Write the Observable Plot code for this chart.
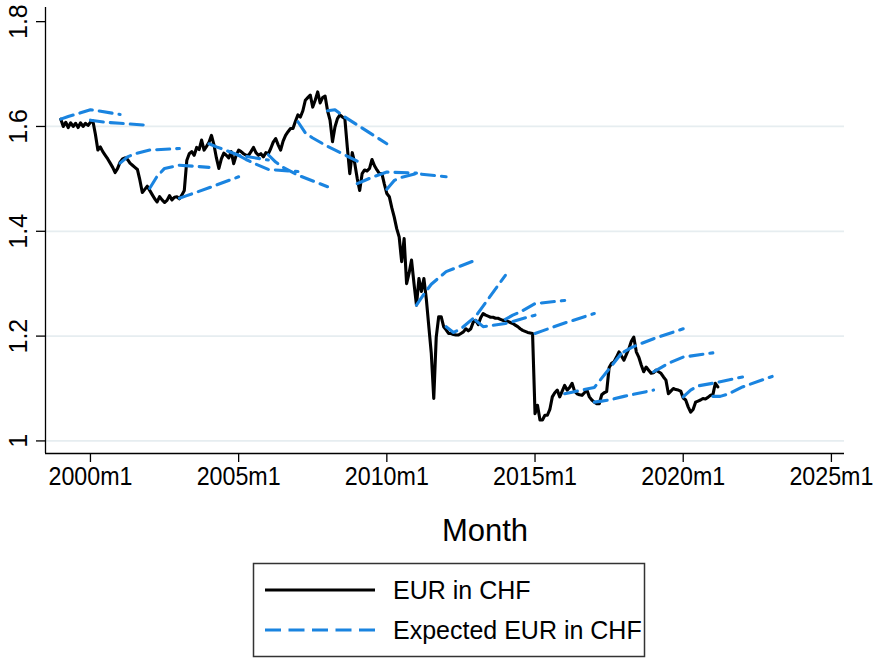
<!DOCTYPE html>
<html><head><meta charset="utf-8">
<script src="https://cdn.jsdelivr.net/npm/d3@7"></script>
<script src="https://cdn.jsdelivr.net/npm/@observablehq/plot@0.6"></script>
<style>
body{margin:0;background:#fff;font-family:"Liberation Sans",Arial,sans-serif;}
#wrap{position:relative;width:896px;height:659px;overflow:hidden;}
#legend{position:absolute;left:0;top:0;}
</style></head><body><div id="wrap"><div id="chart"></div><svg id="legend" width="896" height="659"></svg></div>
<script>
// ---- data ----
const spotStartYear = 1999;   // first observation: 1999m1, monthly
const spotValues = [
  1.614,1.600,1.608,1.598,1.607,1.600,1.606,1.598,1.607,1.600,1.606,1.602, // 1999
  1.608,1.610,1.585,1.555,1.561,1.552,1.545,1.538,1.530,1.522,1.512,1.520, // 2000
  1.532,1.538,1.540,1.537,1.530,1.526,1.522,1.518,1.498,1.474,1.480,1.486, // 2001
  1.478,1.470,1.462,1.456,1.466,1.460,1.455,1.459,1.468,1.460,1.465,1.466, // 2002
  1.462,1.469,1.478,1.535,1.548,1.552,1.545,1.560,1.556,1.574,1.555,1.562, // 2003
  1.570,1.583,1.565,1.540,1.520,1.538,1.549,1.545,1.540,1.552,1.529,1.545, // 2004
  1.555,1.552,1.548,1.545,1.545,1.552,1.560,1.550,1.545,1.548,1.542,1.550, // 2005
  1.548,1.558,1.570,1.577,1.565,1.555,1.572,1.583,1.590,1.596,1.596,1.610, // 2006
  1.622,1.618,1.630,1.650,1.655,1.660,1.637,1.650,1.666,1.645,1.655,1.658, // 2007
  1.630,1.612,1.571,1.599,1.615,1.622,1.618,1.615,1.560,1.510,1.550,1.530, // 2008
  1.501,1.478,1.510,1.517,1.515,1.520,1.537,1.525,1.517,1.510,1.510,1.490, // 2009
  1.472,1.466,1.445,1.427,1.405,1.389,1.342,1.386,1.300,1.320,1.345,1.300, // 2010
  1.259,1.310,1.285,1.310,1.270,1.218,1.167,1.081,1.198,1.237,1.237,1.218, // 2011
  1.212,1.205,1.205,1.203,1.202,1.202,1.205,1.208,1.214,1.210,1.214,1.227, // 2012
  1.230,1.222,1.235,1.243,1.240,1.238,1.236,1.236,1.234,1.234,1.232,1.230, // 2013
  1.230,1.228,1.226,1.224,1.221,1.218,1.214,1.211,1.209,1.207,1.206,1.205, // 2014
  1.052,1.068,1.040,1.040,1.049,1.049,1.060,1.084,1.092,1.097,1.084,1.095, // 2015
  1.106,1.097,1.102,1.110,1.095,1.090,1.088,1.087,1.092,1.097,1.084,1.078, // 2016
  1.074,1.071,1.071,1.088,1.092,1.094,1.140,1.148,1.151,1.160,1.170,1.162, // 2017
  1.154,1.165,1.176,1.190,1.198,1.170,1.160,1.145,1.132,1.141,1.135,1.129, // 2018
  1.130,1.135,1.132,1.129,1.122,1.116,1.090,1.095,1.100,1.098,1.097,1.095, // 2019
  1.082,1.078,1.065,1.055,1.060,1.074,1.076,1.078,1.081,1.080,1.083,1.087, // 2020
  1.088,1.110,1.103                                                        // 2021
];
// forecasts made each January, expected EUR in CHF at these horizons (months ahead)
const forecastYears = [1999,2000,2001,2002,2003,2004,2005,2006,2007,2008,2009,2010,2011,2012,2013,2014,2015,2016,2017,2018,2019,2020,2021];
const forecastHorizons = [0, 3, 6, 12, 24];
const forecastValues = [
  [1.614,1.619,1.623,1.632,1.623],
  [1.612,1.610,1.608,1.606,1.602],
  [1.530,1.542,1.548,1.555,1.558],
  [1.482,1.505,1.520,1.526,1.522],
  [1.463,1.468,1.473,1.483,1.504],
  [1.567,1.561,1.556,1.545,1.536],
  [1.545,1.537,1.530,1.518,1.514],
  [1.546,1.532,1.522,1.507,1.485],
  [1.609,1.588,1.578,1.562,1.534],
  [1.630,1.632,1.621,1.603,1.567],
  [1.491,1.497,1.503,1.513,1.511],
  [1.480,1.497,1.503,1.510,1.504],
  [1.259,1.280,1.299,1.323,1.345],
  [1.218,1.207,1.214,1.238,1.316],
  [1.230,1.218,1.220,1.224,1.240],
  [1.232,1.240,1.246,1.262,1.268],
  [1.205,1.210,1.215,1.225,1.243],
  [1.090,1.093,1.096,1.102,1.173],
  [1.074,1.076,1.078,1.085,1.097],
  [1.170,1.178,1.184,1.195,1.214],
  [1.132,1.140,1.148,1.160,1.168],
  [1.084,1.097,1.105,1.110,1.122],
  [1.085,1.085,1.089,1.103,1.123]
];
const xTickLabels = ["2000m1","2005m1","2010m1","2015m1","2020m1","2025m1"];
const yTicks = [1, 1.2, 1.4, 1.6, 1.8];
const yGridTicks = [1, 1.2, 1.4, 1.6];
const xTitle = "Month";
const seriesNames = ["EUR in CHF", "Expected EUR in CHF"];

// ---- build tables (month index: months since 2000m1) ----
const monthIndex = (y, m) => (y - 2000) * 12 + (m - 1);
const spot = spotValues.map((v, i) => ({m: monthIndex(spotStartYear, 1) + i, v}));
const fc = [];
forecastYears.forEach((yr, j) => forecastHorizons.forEach((h, k) =>
  fc.push({id: yr, m: monthIndex(yr, 1) + h, v: forecastValues[j][k]})));
const xTicks = xTickLabels.map(s => { const [y, m] = s.split("m").map(Number); return monthIndex(y, m); });
const xLabelOf = new Map(xTicks.map((t, i) => [t, xTickLabels[i]]));

const xDomain = [-18.2, 305.3], yDomain = [0.976, 1.827];
const BLUE = "#1a84e0";
const FONT = "Liberation Sans, Arial, sans-serif";

const chart = Plot.plot({
  width: 896, height: 548,
  marginLeft: 45, marginRight: 52, marginTop: 7, marginBottom: 95,
  style: {fontFamily: FONT, color: "#000", background: "#fff", overflow: "visible"},
  x: {domain: xDomain, label: null},
  y: {domain: yDomain, label: null},
  marks: [
    Plot.gridY(yGridTicks, {stroke: "#e6edf0", strokeOpacity: 1, strokeWidth: 1.8}),
    Plot.ruleX([xDomain[0]], {stroke: "#000", strokeWidth: 1.3}),
    Plot.ruleY([yDomain[0]], {stroke: "#000", strokeWidth: 1.3}),
    Plot.axisY(yTicks, {tickSize: 9, tickFormat: () => "", strokeWidth: 1.3}),
    Plot.text(yTicks, {y: d => d, text: d => String(d), frameAnchor: "left", dx: -27,
      rotate: -90, fontSize: 25, textAnchor: "middle", lineAnchor: "middle", fill: "#000"}),
    Plot.axisX(xTicks, {tickSize: 9, tickPadding: 4, fontSize: 26, strokeWidth: 1.3,
      tickFormat: d => xLabelOf.get(d), fill: "#000"}),
    Plot.text([xTitle], {frameAnchor: "bottom", dx: 40, dy: 87, fontSize: 31,
      textAnchor: "middle", lineAnchor: "bottom", fill: "#000"}),
    Plot.line(spot, {x: "m", y: "v", stroke: "#000", strokeWidth: 3.1, strokeLinejoin: "round"}),
    Plot.line(fc, {x: "m", y: "v", z: "id", stroke: BLUE, strokeWidth: 3.1,
      strokeDasharray: "13,7", strokeLinejoin: "round"})
  ]
});
document.getElementById("chart").appendChild(chart);

// condensed look of the x tick labels (as in the reference)
d3.select(chart).selectAll('g[aria-label="x-axis tick label"] text')
  .attr("textLength", 84).attr("lengthAdjust", "spacingAndGlyphs");

// ---- legend (below the plot) ----
const lg = d3.select("#legend");
lg.append("rect").attr("x", 253.5).attr("y", 563.5).attr("width", 391).attr("height", 93)
  .attr("fill", "none").attr("stroke", "#333").attr("stroke-width", 1.5);
const items = [
  {name: seriesNames[0], stroke: "#000", dash: null, w: 3.1},
  {name: seriesNames[1], stroke: BLUE, dash: "16,7.5", w: 3.1}
];
items.forEach((it, i) => {
  const y = 590 + i * 40;
  lg.append("line").attr("x1", 265).attr("x2", 375).attr("y1", y).attr("y2", y)
    .attr("stroke", it.stroke).attr("stroke-width", it.w)
    .attr("stroke-dasharray", it.dash);
  lg.append("text").attr("x", 393).attr("y", y).attr("dy", "0.35em")
    .attr("font-family", FONT).attr("font-size", 25).attr("fill", "#000").text(it.name);
});
</script></body></html>
